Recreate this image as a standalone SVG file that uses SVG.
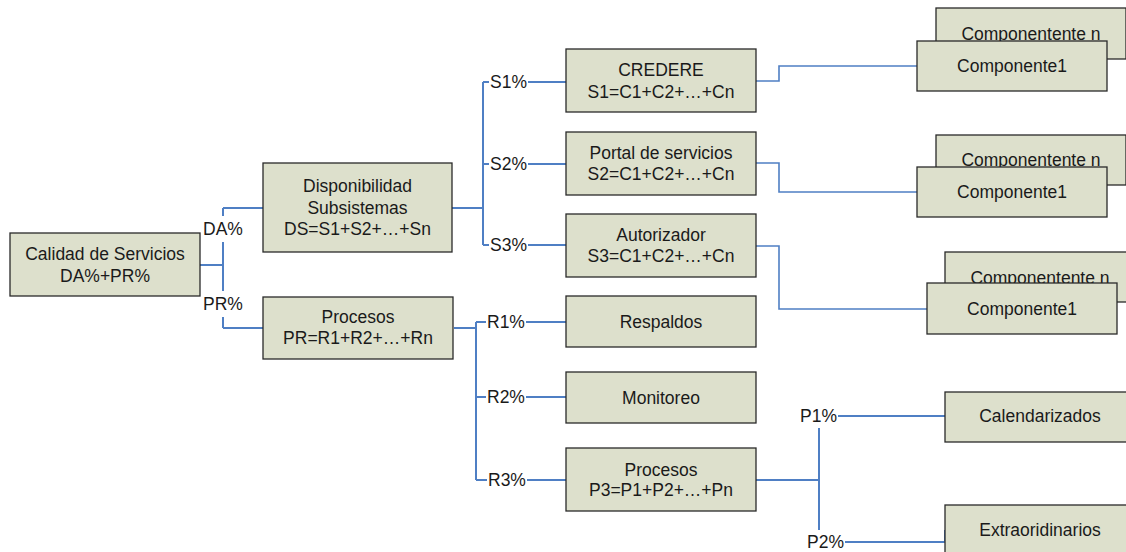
<svg xmlns="http://www.w3.org/2000/svg" width="1126" height="552" viewBox="0 0 1126 552">
<style>
.box{fill:#dde0cc;stroke:#2a2a2a;stroke-width:1.3}
.t{font-family:"Liberation Sans",Arial,sans-serif;font-size:17.5px;fill:#1a1a1a;text-anchor:middle}
.l{font-family:"Liberation Sans",Arial,sans-serif;font-size:17.5px;fill:#1a1a1a}
.c{fill:none;stroke:#4f7fc4;stroke-width:2}
.c2{fill:none;stroke:#4f7fc4;stroke-width:1.6}
.bg{fill:#ffffff}
</style>
<rect width="1126" height="552" fill="#ffffff"/>
<g id="connectors">
<path class="c" d="M200 265 H223 M223 208 V328 M223 208 H263 M223 328 H263"/>
<path class="c" d="M452 208 H483 M483 82 V245 M483 82 H566 M483 164 H566 M483 245 H566"/>
<path class="c" d="M454 328 H476 M476 322 V480 M476 322 H566 M476 397 H566 M476 480 H566"/>
<path class="c" d="M756 480 H819 M819 416 V542 M819 416 H945 M819 542 H945 V530"/>
<path class="c2" d="M756 81 H779 V66 H917"/>
<path class="c2" d="M756 163 H779 V192 H917"/>
<path class="c2" d="M756 246 H779 V309 H927"/>
</g>
<g id="labels">
<rect class="bg" x="202" y="216" width="42" height="26"/><text class="l" x="203" y="235">DA%</text>
<rect class="bg" x="202" y="291" width="42" height="26"/><text class="l" x="203" y="310">PR%</text>
<rect class="bg" x="489" y="70" width="39" height="24"/><text class="l" x="490" y="88">S1%</text>
<rect class="bg" x="489" y="152" width="39" height="24"/><text class="l" x="490" y="170">S2%</text>
<rect class="bg" x="489" y="233" width="39" height="24"/><text class="l" x="490" y="251">S3%</text>
<rect class="bg" x="486" y="310" width="40" height="24"/><text class="l" x="487" y="328">R1%</text>
<rect class="bg" x="486" y="385" width="40" height="24"/><text class="l" x="487" y="403">R2%</text>
<rect class="bg" x="487" y="468" width="40" height="24"/><text class="l" x="488" y="486">R3%</text>
<rect class="bg" x="799" y="404" width="39" height="24"/><text class="l" x="800" y="422">P1%</text>
<rect class="bg" x="806" y="530" width="39" height="24"/><text class="l" x="807" y="548">P2%</text>
</g>
<g id="calidad"><rect class="box" x="10" y="233" width="190" height="63"/><text class="t" x="105" y="260">Calidad de Servicios</text><text class="t" x="105" y="282">DA%+PR%</text></g>
<g id="disponibilidad"><rect class="box" x="263" y="163" width="189" height="89"/><text class="t" x="357.5" y="192">Disponibilidad</text><text class="t" x="357.5" y="213.5">Subsistemas</text><text class="t" x="357.5" y="235">DS=S1+S2+…+Sn</text></g>
<g id="procesos-pr"><rect class="box" x="263" y="297" width="190" height="62"/><text class="t" x="358" y="323">Procesos</text><text class="t" x="358" y="344">PR=R1+R2+…+Rn</text></g>
<g id="credere"><rect class="box" x="566" y="49" width="190" height="63"/><text class="t" x="661" y="76">CREDERE</text><text class="t" x="661" y="98">S1=C1+C2+…+Cn</text></g>
<g id="portal"><rect class="box" x="566" y="132" width="190" height="63"/><text class="t" x="661" y="159">Portal de servicios</text><text class="t" x="661" y="180">S2=C1+C2+…+Cn</text></g>
<g id="autorizador"><rect class="box" x="566" y="214" width="190" height="63"/><text class="t" x="661" y="241">Autorizador</text><text class="t" x="661" y="262">S3=C1+C2+…+Cn</text></g>
<g id="respaldos"><rect class="box" x="566" y="296" width="190" height="51"/><text class="t" x="661" y="328">Respaldos</text></g>
<g id="monitoreo"><rect class="box" x="566" y="372" width="190" height="51"/><text class="t" x="661" y="403.5">Monitoreo</text></g>
<g id="procesos-p3"><rect class="box" x="566" y="448" width="190" height="63"/><text class="t" x="661" y="475.5">Procesos</text><text class="t" x="661" y="496">P3=P1+P2+…+Pn</text></g>
<g id="compn-1"><rect class="box" x="936" y="8" width="190" height="51"/><text class="t" x="1031" y="39.5">Componentente n</text></g>
<g id="comp1-1"><rect class="box" x="917" y="41" width="190" height="50"/><text class="t" x="1012" y="72">Componente1</text></g>
<g id="compn-2"><rect class="box" x="936" y="135" width="190" height="50"/><text class="t" x="1031" y="166">Componentente n</text></g>
<g id="comp1-2"><rect class="box" x="917" y="167" width="190" height="50"/><text class="t" x="1012" y="198">Componente1</text></g>
<g id="compn-3"><rect class="box" x="945" y="252" width="190" height="50"/><text class="t" x="1040" y="284">Componentente n</text></g>
<g id="comp1-3"><rect class="box" x="927" y="283" width="190" height="51"/><text class="t" x="1022" y="315">Componente1</text></g>
<g id="calendarizados"><rect class="box" x="945" y="392" width="190" height="50"/><text class="t" x="1040" y="422">Calendarizados</text></g>
<g id="extraordinarios"><rect class="box" x="945" y="505" width="190" height="52"/><text class="t" x="1040" y="536">Extraoridinarios</text></g>
</svg>
